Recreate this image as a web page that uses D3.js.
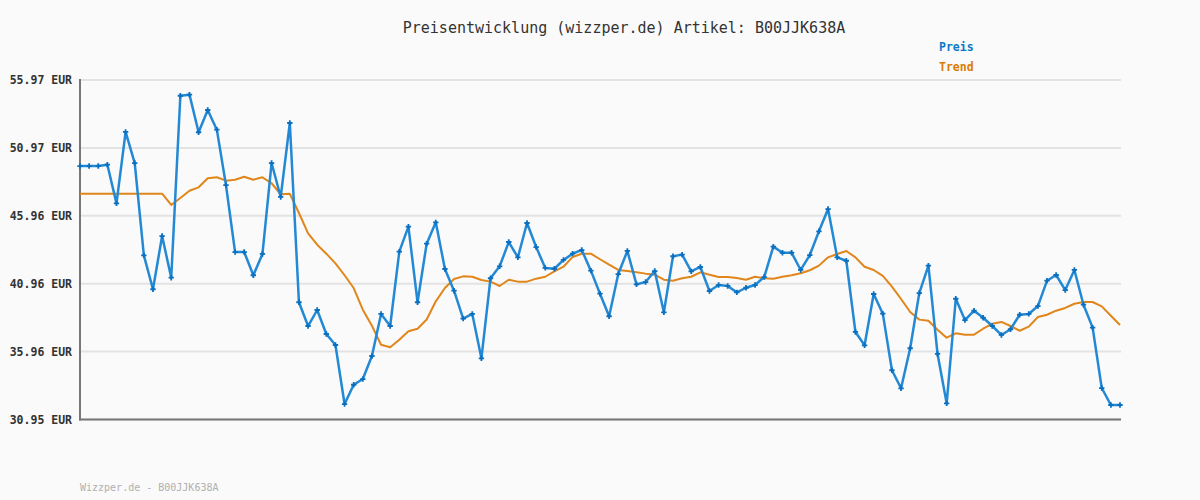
<!DOCTYPE html>
<html><head><meta charset="utf-8">
<script src="https://cdn.jsdelivr.net/npm/d3@7"></script>
<style>
html,body{margin:0;padding:0;background:#fafafa;}
svg{display:block;}
text{font-family:"DejaVu Sans Mono",monospace;}
</style></head>
<body>
<script>
const preis = [49.63,49.63,49.63,49.73,46.88,52.14,49.85,43.05,40.55,44.47,
41.40,54.81,54.89,52.12,53.76,52.31,48.23,43.29,43.29,41.58,
43.15,49.85,47.35,52.80,39.59,37.84,39.02,37.25,36.44,32.09,
33.51,33.93,35.63,38.73,37.84,43.32,45.16,39.59,43.91,45.48,
42.04,40.44,38.38,38.73,35.46,41.36,42.24,44.03,42.90,45.43,
43.66,42.12,42.06,42.71,43.17,43.44,41.92,40.22,38.56,41.67,
43.37,40.91,41.08,41.89,38.85,42.98,43.10,41.87,42.19,40.42,
40.86,40.79,40.32,40.66,40.86,41.45,43.69,43.24,43.24,41.97,
43.07,44.82,46.46,42.90,42.65,37.40,36.42,40.20,38.75,34.58,
33.25,36.20,40.27,42.29,35.78,32.14,39.85,38.28,38.97,38.45,
37.84,37.18,37.60,38.67,38.73,39.31,41.18,41.60,40.49,41.97,
39.41,37.72,33.27,32.02,32.02];
const trend = [47.59,47.59,47.59,47.59,47.59,47.59,47.59,47.59,47.59,47.59,
46.76,47.27,47.81,48.06,48.73,48.80,48.55,48.62,48.84,48.62,
48.80,48.36,47.55,47.59,46.17,44.67,43.83,43.17,42.46,41.58,
40.64,39.04,37.86,36.46,36.27,36.83,37.45,37.64,38.32,39.66,
40.64,41.30,41.50,41.47,41.23,41.11,40.79,41.25,41.11,41.11,
41.33,41.47,41.87,42.21,42.93,43.17,43.17,42.76,42.36,41.97,
41.89,41.80,41.70,41.62,41.25,41.18,41.36,41.47,41.80,41.62,
41.45,41.45,41.38,41.25,41.47,41.36,41.33,41.47,41.58,41.73,
41.95,42.29,42.90,43.15,43.37,42.90,42.21,41.97,41.53,40.74,
39.83,38.87,38.31,38.23,37.57,36.98,37.30,37.20,37.20,37.64,
38.01,38.14,37.84,37.49,37.79,38.50,38.67,38.97,39.17,39.48,
39.61,39.61,39.29,38.60,37.91];
const tickLabels = ["30.95 EUR","35.96 EUR","40.96 EUR","45.96 EUR","50.97 EUR","55.97 EUR"];
const yMin = 30.95, yMax = 55.97;
const title = "Preisentwicklung (wizzper.de) Artikel: B00JJK638A";
const footer = "Wizzper.de - B00JJK638A";
const seriesNames = ["Preis","Trend"];

const W=1200,H=500;
const svg=d3.select("body").append("svg").attr("width",W).attr("height",H);
svg.append("rect").attr("width",W).attr("height",H).attr("fill","#fafafa");

const x=d3.scaleLinear().domain([0,preis.length-1]).range([80,1120]);
const y=d3.scaleLinear().domain([yMin,yMax]).range([419.5,80]);
const tickVals=d3.range(6).map(i=>yMin+(yMax-yMin)*i/5);

// grid
svg.append("g").selectAll("line").data(tickVals).join("line")
  .attr("x1",80).attr("x2",1121).attr("y1",d=>y(d)).attr("y2",d=>y(d))
  .attr("stroke","#e3e3e3").attr("stroke-width",2);

// y axis labels
const yAxis=d3.axisLeft(y).tickValues(tickVals).tickSize(0).tickPadding(8)
  .tickFormat((d,i)=>tickLabels[i]);
const gy=svg.append("g").attr("transform","translate(80,0)").call(yAxis);
gy.select(".domain").remove();
gy.selectAll("text").attr("font-size","11.5px").attr("font-weight","bold").attr("fill","#333")
  .attr("font-family","'DejaVu Sans Mono',monospace");

// axis lines
svg.append("line").attr("x1",80).attr("x2",80).attr("y1",79).attr("y2",420.5).attr("stroke","#777").attr("stroke-width",2);
svg.append("line").attr("x1",79).attr("x2",1121).attr("y1",419.5).attr("y2",419.5).attr("stroke","#777").attr("stroke-width",2);

// trend
const line=d3.line().x((d,i)=>x(i)).y(d=>y(d));
svg.append("path").datum(trend).attr("d",line).attr("fill","none")
  .attr("stroke","#e0861a").attr("stroke-width",2).attr("stroke-linejoin","round");
// preis
svg.append("path").datum(preis).attr("d",line).attr("fill","none")
  .attr("stroke","#2489d4").attr("stroke-width",2.5).attr("stroke-linejoin","round");
// markers
const sym=d3.symbol().type(d3.symbolCross).size(16);
svg.append("g").selectAll("path").data(preis).join("path")
  .attr("d",sym).attr("transform",(d,i)=>`translate(${x(i)},${y(d)})`)
  .attr("fill","#0a6fbf");

// title
svg.append("text").attr("x",624).attr("y",33).attr("text-anchor","middle")
  .attr("font-size","15px").attr("fill","#333").text(title);
// legend
const legColors=["#0a78c8","#dd7a00"];
svg.append("g").selectAll("text").data(seriesNames).join("text")
  .attr("x",939).attr("y",(d,i)=>51+i*20).attr("font-size","11.5px").attr("font-weight","bold")
  .attr("fill",(d,i)=>legColors[i]).text(d=>d);
// footer
svg.append("text").attr("x",80).attr("y",491).attr("font-size","10px").attr("fill","#b0b0b0").text(footer);
</script>
</body></html>
